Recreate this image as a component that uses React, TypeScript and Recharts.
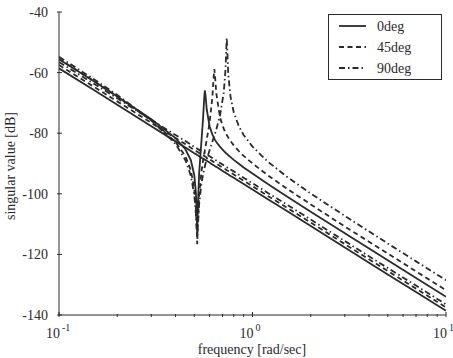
import React from "react";
import { LineChart, Line, XAxis, YAxis, Legend } from "recharts";

// frequency grid [rad/sec], dense around the anti-resonance / resonance
const freqs = [
  0.1, 0.15, 0.2, 0.3, 0.4, 0.45, 0.48, 0.5, 0.51, 0.515, 0.518, 0.521, 0.53, 0.545, 0.555,
  0.562, 0.567, 0.572, 0.58, 0.6, 0.62, 0.63, 0.635, 0.64, 0.65, 0.68, 0.71, 0.725, 0.732,
  0.736, 0.74, 0.75, 0.77, 0.8, 0.85, 0.9, 1, 1.2, 1.5, 2, 3, 5, 7, 10,
];

// 0deg: singular value with notch + peak, and the plain one
const deg0Mode = [
  -55.6, -62.7, -67.9, -75.4, -81.6, -85.3, -88.9, -93.8, -99.7, -106.6, -112.7, -105.8, -93.2, -82.4, -75.3,
  -69.1, -65.9, -67.7, -72.1, -77.7, -80.4, -81.3, -81.8, -82.2, -82.9, -84.5, -85.8, -86.4, -86.7,
  -86.8, -86.9, -87.3, -87.9, -88.8, -90.1, -91.3, -93.3, -96.8, -100.8, -105.9, -113.0, -121.9, -127.8, -134.0,
];
const deg0Base = [
  -58.6, -65.6, -70.6, -77.7, -82.7, -84.7, -85.9, -86.6, -86.9, -87.1, -87.2, -87.3, -87.6, -88.1, -88.4,
  -88.6, -88.7, -88.9, -89.1, -89.7, -90.3, -90.6, -90.7, -90.9, -91.1, -91.9, -92.7, -93.0, -93.2,
  -93.3, -93.4, -93.6, -94.1, -94.7, -95.8, -96.8, -98.6, -101.8, -105.6, -110.6, -117.7, -126.6, -132.4, -138.6,
];

// 45deg
const deg45Mode = [
  -55.5, -62.6, -67.9, -75.8, -82.9, -87.6, -92.2, -98.2, -104.7, -111.6, -116.6, -111.4, -100.4, -92.6, -89.2,
  -87.1, -85.7, -84.3, -82.2, -76.5, -68.3, -61.4, -58.8, -61.0, -66.9, -74.9, -78.5, -79.8, -80.3,
  -80.6, -80.8, -81.5, -82.6, -84.0, -85.9, -87.5, -90.0, -93.9, -98.2, -103.5, -110.8, -119.7, -125.6, -131.8,
];
const deg45Base = [
  -57.5, -64.5, -69.5, -76.6, -81.6, -83.6, -84.8, -85.5, -85.8, -86.0, -86.1, -86.2, -86.5, -87.0, -87.3,
  -87.5, -87.6, -87.8, -88.0, -88.6, -89.2, -89.5, -89.6, -89.8, -90.0, -90.8, -91.6, -91.9, -92.1,
  -92.2, -92.3, -92.5, -93.0, -93.6, -94.7, -95.7, -97.5, -100.7, -104.5, -109.5, -116.6, -125.5, -131.3, -137.5,
];

// 90deg
const deg90Mode = [
  -54.8, -62.0, -67.4, -75.7, -83.5, -88.9, -94.0, -100.3, -106.7, -111.9, -113.9, -111.8, -103.4, -96.5, -93.7,
  -92.0, -91.0, -90.0, -88.6, -85.6, -82.8, -81.5, -80.8, -80.2, -78.8, -74.0, -66.7, -59.2, -52.3,
  -48.5, -52.2, -60.8, -68.0, -73.1, -77.7, -80.6, -84.4, -89.4, -94.3, -99.9, -107.3, -116.4, -122.3, -128.5,
];
const deg90Base = [
  -56.5, -63.5, -68.5, -75.6, -80.6, -82.6, -83.8, -84.5, -84.8, -85.0, -85.1, -85.2, -85.5, -86.0, -86.3,
  -86.5, -86.6, -86.8, -87.0, -87.6, -88.2, -88.5, -88.6, -88.8, -89.0, -89.8, -90.6, -90.9, -91.1,
  -91.2, -91.3, -91.5, -92.0, -92.6, -93.7, -94.7, -96.5, -99.7, -103.5, -108.5, -115.6, -124.5, -130.3, -136.5,
];

const xTicks = [0.1, 0.2, 0.3, 0.4, 0.5, 0.6, 0.7, 0.8, 0.9, 1, 2, 3, 4, 5, 6, 7, 8, 9, 10];
const xMajor = [0.1, 1, 10];
const yTicks = [-140, -120, -100, -80, -60, -40];

const seriesNames = ["0deg", "45deg", "90deg"];
const dashes = ["", "5 3.5", "6 3 1.5 3"];

const data = freqs.map((f, i) => ({
  f,
  m0: deg0Mode[i],
  b0: deg0Base[i],
  m45: deg45Mode[i],
  b45: deg45Base[i],
  m90: deg90Mode[i],
  b90: deg90Base[i],
}));

const INK = "#2a2a2a";
const SERIF = "'Liberation Serif', 'Times New Roman', serif";

const isMajor = (v: number) => xMajor.some((m) => Math.abs(m - v) < 1e-9);

function BottomTick({ x, y, payload }: any) {
  const v = payload.value;
  const major = isMajor(v);
  const exp = Math.round(Math.log10(v));
  return (
    <g>
      <line x1={x} x2={x} y1={y} y2={y - (major ? 5 : 3)} stroke={INK} />
      {major && (
        <text x={x + 1} y={y + 21} textAnchor="end" fontSize={14} fontFamily={SERIF} fill={INK}>
          10
        </text>
      )}
      {major && (
        <text x={x + 3} y={y + 14} fontSize={10} fontFamily={SERIF} fill={INK}>
          {exp}
        </text>
      )}
    </g>
  );
}

function TopTick({ x, y, payload }: any) {
  const major = isMajor(payload.value);
  return <line x1={x} x2={x} y1={y} y2={y + (major ? 5 : 3)} stroke={INK} />;
}

function LeftTick({ x, y, payload }: any) {
  return (
    <g>
      <line x1={x} x2={x + 5} y1={y} y2={y} stroke={INK} />
      <text x={x - 9} y={y + 5} textAnchor="end" fontSize={14} fontFamily={SERIF} fill={INK}>
        {payload.value}
      </text>
    </g>
  );
}

function RightTick({ x, y }: any) {
  return <line x1={x} x2={x - 5} y1={y} y2={y} stroke={INK} />;
}

function YLabel() {
  return (
    <text x={15} y={166} transform="rotate(-90 15 166)" textAnchor="middle" fontSize={14} fontFamily={SERIF} fill={INK}>
      singular value [dB]
    </text>
  );
}

function XLabel() {
  return (
    <text x={252} y={354} textAnchor="middle" fontSize={14} fontFamily={SERIF} fill={INK}>
      frequency [rad/sec]
    </text>
  );
}

function LegendBox({ payload }: any) {
  const items = (payload || []).filter((p: any) => seriesNames.includes(p.value));
  return (
    <svg width={114} height={66} style={{ display: "block", background: "#fff" }}>
      <rect x={0.5} y={0.5} width={113} height={65} fill="#fff" stroke={INK} />
      {items.map((p: any) => {
        const i = seriesNames.indexOf(p.value);
        const cy = 12 + i * 21;
        return (
          <g key={p.value}>
            <line x1={11} x2={38} y1={cy} y2={cy} stroke={INK} strokeWidth={1.8} strokeDasharray={dashes[i]} />
            <text x={49} y={cy + 5} fontSize={14} fontFamily={SERIF} fill={INK}>
              {p.value}
            </text>
          </g>
        );
      })}
    </svg>
  );
}

export default function App() {
  const common = { type: "linear" as const, dot: false, isAnimationActive: false, stroke: INK, strokeWidth: 1.8 };
  return (
    <div style={{ position: "absolute", left: 0, top: 0, background: "#fff" }}>
      <LineChart width={453} height={358} data={data} margin={{ top: 12, right: 7, bottom: 13, left: 0 }}>
        <XAxis
          dataKey="f"
          type="number"
          scale="log"
          domain={[0.1, 10]}
          allowDataOverflow
          ticks={xTicks}
          interval={0}
          tickSize={0}
          tickLine={false}
          height={30}
          axisLine={{ stroke: INK }}
          tick={<BottomTick />}
          label={<XLabel />}
        />
        <XAxis
          xAxisId="top"
          orientation="top"
          type="number"
          scale="log"
          domain={[0.1, 10]}
          allowDataOverflow
          ticks={xTicks}
          interval={0}
          tickSize={0}
          tickLine={false}
          height={0}
          axisLine={{ stroke: INK }}
          tick={<TopTick />}
        />
        <YAxis
          type="number"
          domain={[-140, -40]}
          allowDataOverflow
          ticks={yTicks}
          interval={0}
          tickSize={0}
          tickLine={false}
          width={59}
          axisLine={{ stroke: INK }}
          tick={<LeftTick />}
          label={<YLabel />}
        />
        <YAxis
          yAxisId="right"
          orientation="right"
          type="number"
          domain={[-140, -40]}
          allowDataOverflow
          ticks={yTicks}
          interval={0}
          tickSize={0}
          tickLine={false}
          width={0}
          axisLine={{ stroke: INK }}
          tick={<RightTick />}
        />
        <Legend
          layout="vertical"
          align="center"
          verticalAlign="middle"
          content={<LegendBox />}
          wrapperStyle={{ position: "absolute", left: 328, top: 14, width: 114, height: 66 }}
        />
        <Line {...common} dataKey="b0" name="0deg-b" legendType="none" />
        <Line {...common} dataKey="b45" name="45deg-b" legendType="none" strokeDasharray={dashes[1]} />
        <Line {...common} dataKey="b90" name="90deg-b" legendType="none" strokeDasharray={dashes[2]} />
        <Line {...common} dataKey="m0" name="0deg" />
        <Line {...common} dataKey="m45" name="45deg" strokeDasharray={dashes[1]} />
        <Line {...common} dataKey="m90" name="90deg" strokeDasharray={dashes[2]} />
      </LineChart>
    </div>
  );
}
